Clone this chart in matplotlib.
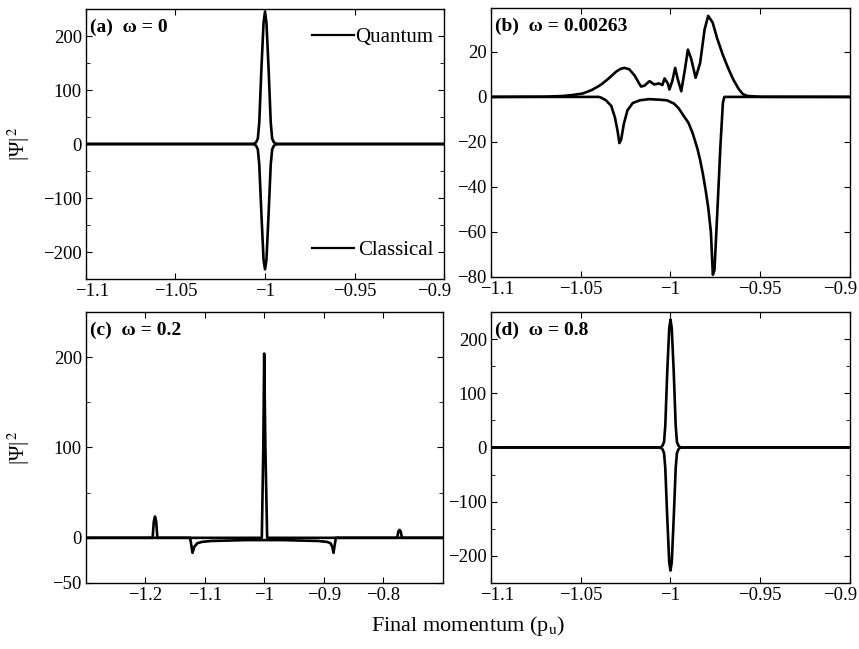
import numpy as np
import matplotlib
matplotlib.use('Agg')
import matplotlib.pyplot as plt
from matplotlib.ticker import MultipleLocator
from matplotlib.lines import Line2D
from matplotlib.transforms import ScaledTranslation

plt.rcParams['font.family'] = ['Liberation Serif', 'DejaVu Serif']
plt.rcParams['mathtext.fontset'] = 'stix'

# (a) omega = 0
qa_x = [-1.1, -1.0065, -1.005, -1.004, -1.0032, -1.002, -1.0008, -1.0, -0.9992, -0.998, -0.9968, -0.996, -0.995, -0.9935, -0.9]
qa_y = [0, 0, 3, 10, 40, 140, 225, 245, 225, 140, 40, 10, 3, 0, 0]
ca_x = [-1.1, -1.0065, -1.005, -1.004, -1.0032, -1.002, -1.0008, -1.0, -0.9992, -0.998, -0.9968, -0.996, -0.995, -0.9935, -0.9]
ca_y = [0, 0, -3, -10, -38, -130, -215, -232, -215, -130, -38, -10, -3, 0, 0]

# (b) omega = 0.00263
qb_x = [-1.1, -1.07, -1.06, -1.055, -1.049, -1.044, -1.04, -1.0378, -1.034, -1.0303, -1.028, -1.0257,
        -1.023, -1.02, -1.0175, -1.0164, -1.0145, -1.0117, -1.009, -1.0065, -1.0045, -1.0033, -1.0015,
        -1.0006, -0.999, -0.9974, -0.996, -0.994, -0.992, -0.9903, -0.9885, -0.986, -0.9835, -0.981,
        -0.979, -0.9765, -0.974, -0.971, -0.968, -0.965, -0.962, -0.9596, -0.957, -0.95, -0.9]
qb_y = [0, 0.1, 0.4, 0.8, 1.5, 3, 4.8, 6, 8.5, 11.2, 12.4, 12.9,
        12.3, 9.5, 6, 4.6, 5, 7, 5.5, 6, 5.3, 8.2, 6,
        3.3, 7, 12.9, 8, 2.5, 12, 21, 17, 8.5, 15, 30,
        36, 33, 26, 19, 13, 7.7, 3.5, 1.2, 0.4, 0.05, 0]
cb_x = [-1.1, -1.04, -1.0387, -1.036, -1.033, -1.031, -1.0295, -1.0285, -1.0275, -1.026, -1.024,
        -1.021, -1.017, -1.012, -1.007, -1.002, -0.998, -0.9955, -0.9931, -0.99, -0.9877, -0.985,
        -0.9835, -0.982, -0.9805, -0.979, -0.9775, -0.9764, -0.9755, -0.9736, -0.9722, -0.9708, -0.97, -0.9]
cb_y = [0, 0, -0.3, -1.5, -4, -9, -15, -20.5, -19, -12, -6,
        -2.7, -1.5, -1, -1.2, -1.5, -3, -5, -7.9, -11.5, -16, -23,
        -28, -34, -41, -49, -60, -79, -77, -46, -22, -2.6, 0, 0]

# (c) omega = 0.2
qc_x = [-1.3, -1.188, -1.186, -1.184, -1.182, -1.18, -1.0045, -1.002, -1.0005, -0.9985, -0.9955,
        -0.777, -0.775, -0.773, -0.771, -0.769, -0.7]
qc_y = [0, 0, 18, 23.6, 18, 0, 0, 100, 204, 100, 0,
        0, 7, 8.8, 7, 0, 0]
cc_x = [-1.3, -1.125, -1.123, -1.121, -1.118, -1.113, -1.105, -1.09, -1.06, -1.03, -1.0, -0.97,
        -0.94, -0.91, -0.895, -0.889, -0.886, -0.884, -0.882, -0.88, -0.7]
cc_y = [0, 0, -8, -16.6, -10, -6, -4.5, -3.5, -3, -2.5, -2.5, -2.5,
        -3, -3.5, -4.5, -6, -10, -16.6, -8, 0, 0]

# (d) omega = 0.8
qd_x = [-1.1, -1.0056, -1.0045, -1.0036, -1.0029, -1.0018, -1.0007, -1.0, -0.9993, -0.9982, -0.9971, -0.9964, -0.9955, -0.9944, -0.9]
qd_y = [0, 0, 3, 10, 40, 140, 220, 236, 220, 140, 40, 10, 3, 0, 0]
cd_x = [-1.1, -1.0056, -1.0045, -1.0036, -1.0029, -1.0018, -1.0007, -1.0, -0.9993, -0.9982, -0.9971, -0.9964, -0.9955, -0.9944, -0.9]
cd_y = [0, 0, -3, -10, -38, -130, -212, -227, -212, -130, -38, -10, -3, 0, 0]

fig = plt.figure(figsize=(8.59, 6.49), dpi=100)
axa = fig.add_axes([0.1001, 0.5701, 0.4168, 0.4160])
axb = fig.add_axes([0.5716, 0.5732, 0.4179, 0.4145])
axc = fig.add_axes([0.1001, 0.1017, 0.4156, 0.4176])
axd = fig.add_axes([0.5716, 0.1017, 0.4179, 0.4176])

lw = 1.9
for ax, qx, qy, cx, cy in [(axa, qa_x, qa_y, ca_x, ca_y), (axb, qb_x, qb_y, cb_x, cb_y),
                           (axc, qc_x, qc_y, cc_x, cc_y), (axd, qd_x, qd_y, cd_x, cd_y)]:
    ax.plot(qx, qy, color='black', lw=lw)
    ax.plot(cx, cy, color='black', lw=lw)
    ax.tick_params(which='both', direction='in', top=True, right=True, labelsize=13.5, pad=3)
    ax.tick_params(which='major', length=4)
    ax.tick_params(which='minor', length=3)
    for s in ax.spines.values():
        s.set_linewidth(1.0)

for ax in (axa, axb, axd):
    ax.set_xlim(-1.1, -0.9)
    ax.set_xticks([-1.1, -1.05, -1.0, -0.95, -0.9])
    ax.set_xticklabels(['\u22121.1', '\u22121.05', '\u22121', '\u22120.95', '\u22120.9'])
    tl = ax.get_xticklabels()
    tl[0].set_transform(tl[0].get_transform() + ScaledTranslation(6 / 100, 0, fig.dpi_scale_trans))
    tl[-1].set_transform(tl[-1].get_transform() + ScaledTranslation(-10 / 100, 0, fig.dpi_scale_trans))

for ax in (axa, axd):
    ax.set_ylim(-250, 250)
    ax.set_yticks([-200, -100, 0, 100, 200])
    ax.set_yticklabels(['\u2212200', '\u2212100', '0', '100', '200'])
    ax.yaxis.set_minor_locator(MultipleLocator(50))

axb.set_ylim(-80, 39.5)
axb.set_yticks([-80, -60, -40, -20, 0, 20])
axb.set_yticklabels(['\u221280', '\u221260', '\u221240', '\u221220', '0', '20'])

axc.set_xlim(-1.3, -0.7)
axc.set_xticks([-1.2, -1.1, -1.0, -0.9, -0.8])
axc.set_xticklabels(['\u22121.2', '\u22121.1', '\u22121', '\u22120.9', '\u22120.8'])
axc.set_ylim(-50, 250)
axc.set_yticks([-50, 0, 100, 200])
axc.set_yticklabels(['\u221250', '0', '100', '200'])
axc.yaxis.set_minor_locator(MultipleLocator(50))

labels = ['(a)  \u03c9 = 0', '(b)  \u03c9 = 0.00263', '(c)  \u03c9 = 0.2', '(d)  \u03c9 = 0.8']
for ax, lab in zip((axa, axb, axc, axd), labels):
    ax.text(0.012, 0.965, lab, transform=ax.transAxes, ha='left', va='top',
            fontsize=14, fontweight='bold')

for ax in (axa, axc):
    ax.set_ylabel('|\u03a8|$^{\\,2}$', fontsize=15)
    ax.yaxis.set_label_coords(-0.15, 0.5)

h = Line2D([], [], color='black', lw=1.6)
leg1 = axa.legend([h], ['Quantum'], loc='upper right', bbox_to_anchor=(1.0, 0.97), frameon=False,
                  fontsize=15, handlelength=2.0, handletextpad=0.1, borderaxespad=0.2, borderpad=0.3)
axa.add_artist(leg1)
axa.legend([h], ['Classical'], loc='lower right', bbox_to_anchor=(1.0, 0.03), frameon=False,
           fontsize=15, handlelength=2.0, handletextpad=0.2, borderaxespad=0.2, borderpad=0.3)

fig.text(0.545, 0.036, 'Final momentum (p$_\\mathrm{u}$)', ha='center', va='center', fontsize=16)

fig.savefig('out.png', dpi=100)
